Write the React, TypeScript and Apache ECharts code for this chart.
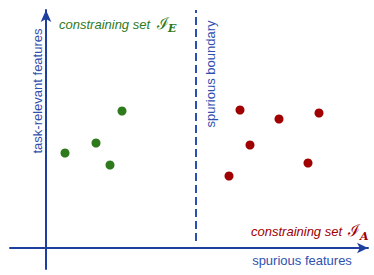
import React, { useEffect, useRef } from "react";
import * as echarts from "echarts";

// data coordinates: x = spurious feature, y = task-relevant feature
const groupE: [number, number][] = [
  [76, 137],
  [50, 105],
  [19, 95],
  [64, 83],
];
const groupA: [number, number][] = [
  [194, 138],
  [233, 129],
  [273, 135],
  [204, 103],
  [183, 72],
  [262, 85],
];
const boundaryX = 150;
const boundarySpan: [number, number] = [7, 238];

const axisLabels = {
  x: "spurious features",
  y: "task-relevant features",
  boundary: "spurious boundary",
  setLabel: "constraining set ",
  script: "ℐ",
  subE: "E",
  subA: "A",
};

const BLUE = "#1f3f9f";
const TEXT_BLUE = "#3050ae";
const GREEN = "#2f7a1c";
const RED = "#a00000";

export default function App() {
  const ref = useRef<HTMLDivElement>(null);
  useEffect(() => {
    if (!ref.current) return;
    const chart = echarts.init(ref.current, undefined, { renderer: "svg" });
    const sans = "Liberation Sans, Arial, sans-serif";
    const serif = "DejaVu Serif, serif";
    chart.setOption({
      animation: false,
      backgroundColor: "#ffffff",
      grid: { left: 10, right: 6, top: 10, bottom: 6 },
      xAxis: {
        type: "value",
        min: -36,
        max: 322,
        splitLine: { show: false },
        axisTick: { show: false },
        axisLabel: { show: false },
        axisLine: {
          show: true,
          onZero: true,
          lineStyle: { color: BLUE, width: 2 },
          symbol: ["none", "arrow"],
          symbolSize: [8, 11],
        },
      },
      yAxis: {
        type: "value",
        min: -21,
        max: 238,
        splitLine: { show: false },
        axisTick: { show: false },
        axisLabel: { show: false },
        axisLine: {
          show: true,
          onZero: true,
          lineStyle: { color: BLUE, width: 2 },
          symbol: ["none", "arrow"],
          symbolSize: [8, 12],
        },
      },
      series: [
        {
          type: "line",
          data: [
            [boundaryX, boundarySpan[0]],
            [boundaryX, boundarySpan[1]],
          ],
          symbol: "none",
          lineStyle: { color: "#2a4fb0", width: 2, type: [8, 4] },
          silent: true,
        },
        {
          type: "scatter",
          data: groupE,
          symbolSize: 9,
          itemStyle: { color: GREEN, opacity: 1 },
        },
        {
          type: "scatter",
          data: groupA,
          symbolSize: 9,
          itemStyle: { color: RED, opacity: 1 },
        },
      ],
      graphic: [
        {
          type: "text",
          x: 37,
          y: 91,
          rotation: Math.PI / 2,
          style: {
            text: axisLabels.y,
            fill: TEXT_BLUE,
            font: `13px ${sans}`,
            align: "center",
            verticalAlign: "middle",
          },
        },
        {
          type: "text",
          x: 210,
          y: 74,
          rotation: Math.PI / 2,
          style: {
            text: axisLabels.boundary,
            fill: TEXT_BLUE,
            font: `13px ${sans}`,
            align: "center",
            verticalAlign: "middle",
          },
        },
        {
          type: "text",
          x: 302,
          y: 260,
          style: {
            text: axisLabels.x,
            fill: TEXT_BLUE,
            font: `13px ${sans}`,
            align: "center",
            verticalAlign: "middle",
          },
        },
        {
          type: "text",
          x: 59,
          y: 24,
          style: {
            text: axisLabels.setLabel,
            fill: GREEN,
            font: `italic 13px ${sans}`,
            align: "left",
            verticalAlign: "middle",
          },
        },
        {
          type: "text",
          x: 157,
          y: 23,
          style: {
            text: axisLabels.script,
            fill: GREEN,
            font: `16px ${serif}`,
            align: "left",
            verticalAlign: "middle",
          },
        },
        {
          type: "text",
          x: 168,
          y: 28,
          style: {
            text: axisLabels.subE,
            fill: GREEN,
            font: `italic bold 11px ${serif}`,
            align: "left",
            verticalAlign: "middle",
          },
        },
        {
          type: "text",
          x: 251,
          y: 231,
          style: {
            text: axisLabels.setLabel,
            fill: RED,
            font: `italic 13px ${sans}`,
            align: "left",
            verticalAlign: "middle",
          },
        },
        {
          type: "text",
          x: 348,
          y: 230,
          style: {
            text: axisLabels.script,
            fill: RED,
            font: `16px ${serif}`,
            align: "left",
            verticalAlign: "middle",
          },
        },
        {
          type: "text",
          x: 360,
          y: 236,
          style: {
            text: axisLabels.subA,
            fill: RED,
            font: `italic bold 11px ${serif}`,
            align: "left",
            verticalAlign: "middle",
          },
        },
      ],
    });
    return () => chart.dispose();
  }, []);
  return <div ref={ref} style={{ width: 374, height: 275, position: "absolute", left: 0, top: 0 }} />;
}
